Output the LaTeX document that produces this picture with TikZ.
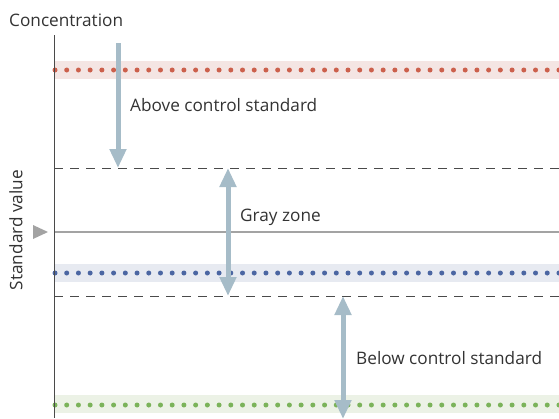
\documentclass[tikz,border=0pt]{standalone}
\usepackage{fontspec}
\setmainfont{Open Sans}
\usetikzlibrary{arrows.meta}
\definecolor{axisgray}{HTML}{4A4A4A}
\definecolor{txtgray}{HTML}{333333}
\definecolor{refgray}{HTML}{A3A3A3}
\definecolor{arrowblue}{HTML}{A6BCC8}
\definecolor{redband}{HTML}{F4E5E3}
\definecolor{reddot}{HTML}{CC604C}
\definecolor{blueband}{HTML}{E7EAF1}
\definecolor{bluedot}{HTML}{4B66A2}
\definecolor{greenband}{HTML}{ECF2E6}
\definecolor{greendot}{HTML}{7BB35A}
\tikzset{
  x=1pt, y=-1pt,
  lbl/.style={text=txtgray, font=\fontsize{17.2}{20}\selectfont, inner sep=0pt},
  band/.style={line width=18pt},
  dotrow/.style={line width=5pt, line cap=round, dash pattern=on 0pt off 11.72pt},
  limit/.style={draw=axisgray, line width=0.8pt, dash pattern=on 9pt off 7pt},
  bigarrow/.style={draw=arrowblue, line width=5pt,
    -{Triangle[width=16pt,length=19pt]}},
  bigdouble/.style={draw=arrowblue, line width=5pt,
    {Triangle[width=16pt,length=19pt]}-{Triangle[width=16pt,length=19pt]}},
}
\begin{document}
\begin{tikzpicture}
\useasboundingbox (0,0) rectangle (559,418);

% level bands with dotted centre lines
\draw[band, redband] (54,70) -- (559,70);
\draw[dotrow, reddot] (55,70) -- (562,70);
\draw[band, blueband] (54,273) -- (559,273);
\draw[dotrow, bluedot] (55,273) -- (562,273);
\draw[band, greenband] (54,404) -- (559,404);
\draw[dotrow, greendot] (55,405) -- (562,405);

% control limits and standard value
\coordinate (upL) at (54,168);  \coordinate (upR) at (559,168);
\coordinate (loL) at (54,296);  \coordinate (loR) at (559,296);
\coordinate (stL) at (54,232);  \coordinate (stR) at (559,232);
\draw[limit] (upL) -- (upR);
\draw[limit] (loL) -- (loR);
\draw[refgray, line width=1.8pt] (stL) -- (stR);
\fill[refgray] (33,225) -- (48,232) -- (33,239) -- cycle;

% vertical axis
\coordinate (axTop) at (54,35);
\coordinate (axBot) at (54,418);
\draw[axisgray, line width=1pt] (axTop) -- (axBot);

% labels
\node[lbl, anchor=west] (conc) at (9,20) {Concentration};
\node[lbl, rotate=90] (stdv) at (16,230) {Standard value};
\node[lbl, anchor=west] (above) at (130,105) {Above control standard};
\node[lbl, anchor=west] (gray) at (240,217) {Gray zone};
\node[lbl, anchor=west] (below) at (356,358) {Below control standard};

% zone arrows
\coordinate (a1s) at (118,43);  \coordinate (a1e) at (118,168);
\coordinate (a2s) at (228,168); \coordinate (a2e) at (228,296);
\coordinate (a3s) at (343,296); \coordinate (a3e) at (343,419);
\draw[bigarrow] (a1s) -- (a1e);
\draw[bigdouble] (a2s) -- (a2e);
\draw[bigdouble] (a3s) -- (a3e);
\end{tikzpicture}
\end{document}
